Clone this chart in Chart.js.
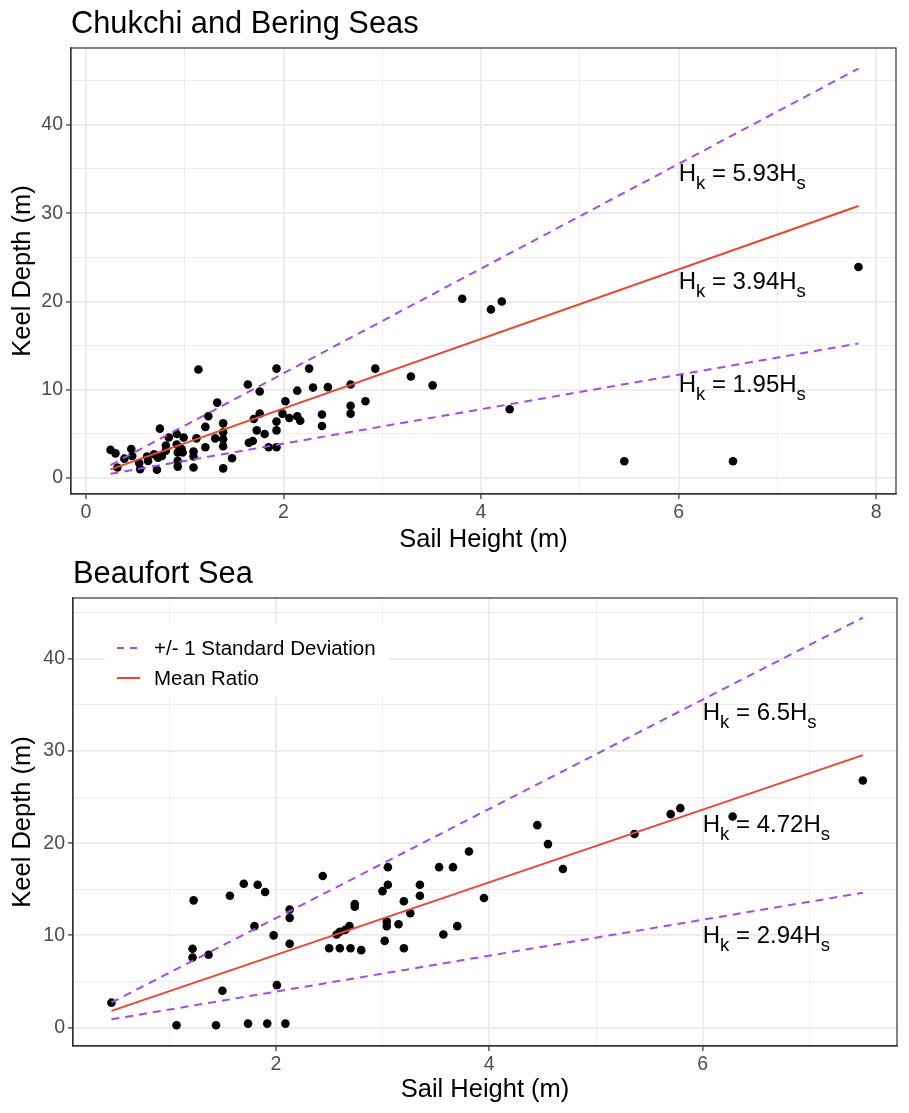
<!DOCTYPE html>
<html>
<head>
<meta charset="utf-8">
<script src="https://cdn.jsdelivr.net/npm/chart.js@4.4.1/dist/chart.umd.min.js"></script>
<style>
  html, body { margin: 0; padding: 0; background: #fff; }
  #wrap { position: relative; width: 909px; height: 1113px; }
  canvas { position: absolute; left: 0; }
  #chukchi { top: 0; }
  #beaufort { top: 555px; }
</style>
</head>
<body>
<div id="wrap">
  <canvas id="chukchi" width="909" height="555"></canvas>
  <canvas id="beaufort" width="909" height="558"></canvas>
</div>
<script>
(function () {
  'use strict';

  var FONT = '"Liberation Sans", Arial, Helvetica, sans-serif';

  // Chukchi and Bering Seas: sail height (m) vs keel depth (m)
  var chukchiSail = [0.25, 0.30, 0.32, 0.39, 0.46, 0.47, 0.54, 0.55, 0.62, 0.63,
    0.69, 0.72, 0.73, 0.75, 0.77, 0.81, 0.81, 0.84, 0.92, 0.92,
    0.93, 0.93, 0.93, 0.97, 0.99, 0.98, 1.09, 1.09, 1.09, 1.12,
    1.14, 1.21, 1.21, 1.24, 1.31, 1.33, 1.39, 1.39, 1.39, 1.39,
    1.39, 1.48, 1.64, 1.65, 1.69, 1.70, 1.73, 1.76, 1.76, 1.81,
    1.85, 1.93, 1.93, 1.93, 1.93, 1.99, 2.02, 2.06, 2.14, 2.14,
    2.17, 2.26, 2.30, 2.39, 2.39, 2.45, 2.68, 2.68, 2.68, 2.83,
    2.93, 3.29, 3.51, 3.81, 4.10, 4.21, 4.29, 5.45, 6.55, 7.82];
  var chukchiKeel = [3.2, 2.8, 1.2, 2.2, 3.3, 2.5, 1.7, 1.0, 2.45, 1.95,
    2.7, 0.94, 2.3, 5.6, 2.5, 3.7, 3.1, 4.6, 5.0, 3.8,
    2.9, 1.95, 1.3, 3.3, 4.6, 2.9, 3.0, 2.45, 1.2, 4.5,
    12.3, 5.8, 3.5, 7.0, 4.5, 8.55, 6.2, 5.2, 4.4, 3.6,
    1.1, 2.25, 10.6, 4.0, 4.2, 6.7, 5.4, 9.8, 7.3, 5.0,
    3.5, 12.4, 6.4, 5.4, 3.5, 7.3, 8.7, 6.8, 9.9, 7.0,
    6.5, 12.4, 10.25, 7.2, 5.9, 10.3, 10.6, 8.2, 7.3, 8.7,
    12.4, 11.5, 10.5, 20.3, 19.1, 20.0, 7.8, 1.9, 1.9, 23.9];

  // Beaufort Sea
  var beaufortSail = [0.46, 1.07, 1.22, 1.22, 1.23, 1.37, 1.44, 1.50, 1.57, 1.70,
    1.74, 1.80, 1.83, 1.90, 1.92, 1.98, 2.01, 2.09, 2.13, 2.13,
    2.13, 2.44, 2.50, 2.57, 2.60, 2.60, 2.65, 2.69, 2.70, 2.74,
    2.74, 2.80, 3.00, 3.02, 3.04, 3.04, 3.05, 3.05, 3.15, 3.20,
    3.20, 3.26, 3.35, 3.35, 3.53, 3.57, 3.66, 3.70, 3.81, 3.95,
    4.45, 4.55, 4.69, 5.36, 5.70, 5.79, 6.28, 7.50];
  var beaufortKeel = [2.7, 0.25, 8.55, 7.6, 13.8, 7.9, 0.25, 4.0, 14.3, 15.6,
    0.43, 11.0, 15.5, 14.7, 0.43, 10.0, 4.6, 0.43, 12.8, 11.9,
    9.1, 16.45, 8.6, 10.1, 10.4, 8.6, 10.6, 11.0, 8.6, 13.4,
    13.1, 8.4, 14.8, 9.4, 11.5, 11.0, 17.4, 15.5, 11.2, 13.7,
    8.6, 12.4, 15.5, 14.3, 17.4, 10.1, 17.4, 11.0, 19.1, 14.05,
    21.96, 19.9, 17.2, 21.0, 23.15, 23.8, 22.9, 26.8];

  // keel = ratio * sail lines: +1 sd, mean, -1 sd
  var lineRatios = [5.93, 3.94, 1.95];
  var lineNames = ['+/- 1 Standard Deviation', 'Mean Ratio', '+/- 1 Standard Deviation'];
  var chukchiRatioLabels = ['5.93', '3.94', '1.95'];
  var beaufortRatioLabels = ['6.5', '4.72', '2.94'];
  // where the ratio labels sit (sail, keel of text baseline)
  var labelSail = 6;
  var chukchiLabelKeel = [33.6, 21.4, 9.7];
  var beaufortLabelKeel = [33.4, 21.2, 9.2];

  // tick labels
  var chukchiXTicks = [0, 2, 4, 6, 8];
  var beaufortXTicks = [2, 4, 6];
  var keelTicks = [0, 10, 20, 30, 40];

  var RED = '#EE4430';
  var PURPLE = '#A04CF0';

  /**
   * major ticks plus the minor ones half way between
   */
  function withMinor(major, min, max) {
    var half = (major[1] - major[0]) / 2;
    var out = [];
    for (var v = Math.ceil(min / half) * half; v <= max; v += half) {
      out.push(Math.round(v * 1000) / 1000);
    }
    return out;
  }

  /**
   * H_k = r H_s label drawn with subscripts
   */
  function drawRatio(ctx, x, y, ratio) {
    var big = '24px ' + FONT;
    var small = '18.5px ' + FONT;
    var parts = [['H', big, 0], ['k', small, 8], [' = ' + ratio + 'H', big, 0], ['s', small, 8]];
    parts.forEach(function (p) {
      ctx.font = p[1];
      ctx.fillText(p[0], x, y + p[2]);
      x += ctx.measureText(p[0]).width;
    });
  }

  var decor = {
    id: 'decor',
    afterDraw: function (chart, args, o) {
      var ctx = chart.ctx;
      var a = chart.chartArea;
      var xs = chart.scales.x;
      var ys = chart.scales.y;
      ctx.save();

      // panel border
      ctx.strokeStyle = '#333333';
      ctx.lineWidth = 1.2;
      ctx.strokeRect(a.left, a.top, a.right - a.left, a.bottom - a.top);

      ctx.fillStyle = '#000';
      ctx.textBaseline = 'alphabetic';

      // ratio labels
      ctx.textAlign = 'left';
      o.ratioLabels.forEach(function (r, i) {
        drawRatio(ctx, xs.getPixelForValue(labelSail), ys.getPixelForValue(o.labelKeel[i]), r);
      });

      // title
      ctx.font = '30.8px ' + FONT;
      ctx.fillText(o.title, a.left, o.titleY);

      // axis titles
      ctx.font = '25.5px ' + FONT;
      ctx.textAlign = 'center';
      ctx.fillText('Sail Height (m)', (a.left + a.right) / 2, o.xTitleY);
      ctx.save();
      ctx.translate(30, (a.top + a.bottom) / 2);
      ctx.rotate(-Math.PI / 2);
      ctx.fillText('Keel Depth (m)', 0, 0);
      ctx.restore();

      // legend inside the panel
      if (o.legend) {
        var lx = a.left + 32, ly = a.top + 25;
        ctx.fillStyle = '#fff';
        ctx.fillRect(lx, ly, 284, 74);
        var rows = [[lineNames[0], PURPLE, [7, 6]], [lineNames[1], RED, []]];
        ctx.font = '20.5px ' + FONT;
        ctx.textAlign = 'left';
        rows.forEach(function (r, i) {
          var cy = ly + 25 + i * 30;
          ctx.strokeStyle = r[1];
          ctx.lineWidth = 2;
          ctx.setLineDash(r[2]);
          ctx.beginPath();
          ctx.moveTo(lx + 12, cy);
          ctx.lineTo(lx + 35, cy);
          ctx.stroke();
          ctx.setLineDash([]);
          ctx.fillStyle = '#000';
          ctx.fillText(r[0], lx + 49, cy + 7);
        });
      }
      ctx.restore();
    }
  };

  function makePanel(id, p) {
    var points = p.sail.map(function (s, i) {
      return {x: s, y: p.keel[i]};
    });
    var lo = Math.min.apply(null, p.sail);
    var hi = Math.max.apply(null, p.sail);

    var datasets = lineRatios.map(function (r, i) {
      return {
        label: lineNames[i],
        data: [{x: lo, y: r * lo}, {x: hi, y: r * hi}],
        showLine: true,
        borderColor: i === 1 ? RED : PURPLE,
        borderWidth: 2,
        borderDash: i === 1 ? [] : [8, 6],
        pointRadius: 0,
        fill: false,
        order: 1
      };
    });
    datasets.push({
      label: 'ridges',
      data: points,
      pointRadius: 4.3,
      pointBackgroundColor: '#000',
      pointBorderWidth: 0,
      order: 2
    });

    var xAll = withMinor(p.xTicks, p.xMin, p.xMax);
    var yAll = withMinor(keelTicks, p.yMin, p.yMax);

    function axis(all, major, fitSize, horizontal) {
      return {
        type: 'linear',
        min: horizontal ? p.xMin : p.yMin,
        max: horizontal ? p.xMax : p.yMax,
        afterBuildTicks: function (s) {
          s.ticks = all.map(function (v) { return {value: v}; });
        },
        afterFit: function (s) {
          if (horizontal) {
            s.height = fitSize;
            s.paddingLeft = 0;
            s.paddingRight = 0;
          } else {
            s.width = fitSize;
          }
        },
        ticks: {
          autoSkip: false,
          maxRotation: 0,
          padding: horizontal ? 2 : 3,
          color: '#4D4D4D',
          font: {family: FONT, size: 19.5},
          callback: function (v) {
            return major.indexOf(v) >= 0 ? String(v) : '';
          }
        },
        grid: {
          color: '#EBEBEB',
          lineWidth: function (c) {
            return c.tick && major.indexOf(c.tick.value) >= 0 ? 1.8 : 0.9;
          },
          tickLength: 5,
          tickWidth: 1.2,
          tickColor: function (c) {
            return c.tick && major.indexOf(c.tick.value) >= 0 ? '#333333' : 'rgba(0,0,0,0)';
          }
        },
        border: {display: true, color: '#333333', width: 1.2}
      };
    }

    return new Chart(document.getElementById(id), {
      type: 'scatter',
      data: {datasets: datasets},
      options: {
        responsive: false,
        animation: false,
        layout: {padding: {left: 0, top: p.padTop, right: p.padRight, bottom: 0}},
        scales: {
          x: axis(xAll, p.xTicks, p.xHeight, true),
          y: axis(yAll, keelTicks, p.yWidth, false)
        },
        plugins: {
          legend: {display: false},
          tooltip: {enabled: false},
          decor: {
            title: p.title,
            titleY: p.titleY,
            xTitleY: p.xTitleY,
            ratioLabels: p.ratioLabels,
            labelKeel: p.labelKeel,
            legend: p.legend
          }
        }
      },
      plugins: [decor]
    });
  }

  makePanel('chukchi', {
    sail: chukchiSail, keel: chukchiKeel,
    ratioLabels: chukchiRatioLabels, labelKeel: chukchiLabelKeel,
    xTicks: chukchiXTicks, xMin: -0.15, xMax: 8.2, yMin: -1.8, yMax: 48.7,
    padTop: 48, padRight: 13, yWidth: 71, xHeight: 61,
    title: 'Chukchi and Bering Seas', titleY: 33, xTitleY: 547, legend: false
  });

  makePanel('beaufort', {
    sail: beaufortSail, keel: beaufortKeel,
    ratioLabels: beaufortRatioLabels, labelKeel: beaufortLabelKeel,
    xTicks: beaufortXTicks, xMin: 0.1, xMax: 7.82, yMin: -2.0, yMax: 46.6,
    padTop: 43, padRight: 12, yWidth: 73, xHeight: 67,
    title: 'Beaufort Sea', titleY: 28, xTitleY: 542, legend: true
  });
})();
</script>
</body>
</html>
